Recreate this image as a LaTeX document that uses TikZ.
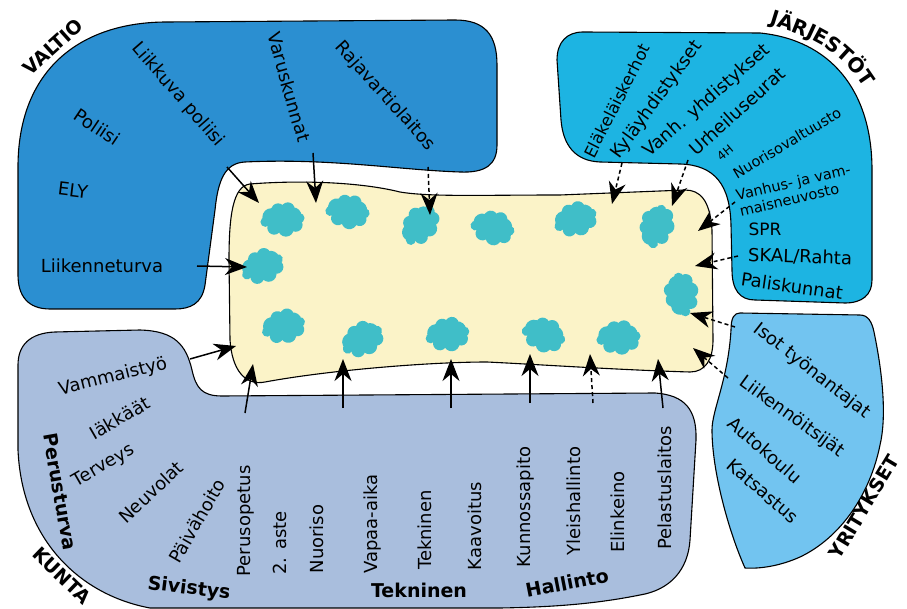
\documentclass[tikz,border=0pt]{standalone}
\usepackage{fontspec}
\setmainfont{DejaVu Sans}
\definecolor{ValtioBlue}{RGB}{43,143,209}
\definecolor{JarjCyan}  {RGB}{29,180,226}
\definecolor{YritBlue}  {RGB}{114,196,240}
\definecolor{KuntaGrey} {RGB}{169,190,221}
\definecolor{CoreCream} {RGB}{251,243,200}
\definecolor{SplatTeal} {RGB}{64,190,200}
\usetikzlibrary{arrows.meta,decorations.text}

\begin{document}
\begin{tikzpicture}[x=1pt,y=-1pt,
  region/.style={draw=black,line width=1.1pt},
  lbl/.style={font=\fontsize{18}{20}\selectfont,inner sep=1pt},
  slbl/.style={font=\fontsize{14.5}{16}\selectfont,inner sep=1pt},
  blbl/.style={font=\fontsize{19}{21}\selectfont\bfseries,inner sep=1pt},
  vlbl/.style={lbl,rotate=90},
  arr/.style={line width=1.5pt,-{Stealth[length=22pt,width=17pt,inset=7pt]}},
  darr/.style={arr,dash pattern=on 4pt off 3pt},
  pics/splat/.style={code={
    \fill[SplatTeal,scale=0.98] (0,0) circle[radius=13]
      (-11,-3) circle[radius=9] (11,-4) circle[radius=9]
      (-4,-10) circle[radius=7] (6,-11) circle[radius=7]
      (-8,8) circle[radius=7] (4,9) circle[radius=8]
      (14,5) circle[radius=7] (-17,2) circle[radius=5]
      (18,-2) circle[radius=5];}}]
  \useasboundingbox (0,0) rectangle (907,609);
  %% VALTIO
  \filldraw[region,fill=ValtioBlue]
    (18,167) .. controls (18,70) and (80,22) .. (167,22)
    -- (455,20) .. controls (485,20) and (497,35) .. (497,65)
    -- (497,145) .. controls (497,165) and (485,173) .. (460,172)
    .. controls (400,170) and (330,158) .. (245,162)
    .. controls (225,163) and (218,180) .. (215,210)
    -- (205,285) .. controls (202,304) and (190,309) .. (175,309)
    -- (50,309) .. controls (28,309) and (18,296) .. (18,275) -- cycle;
  %% JARJESTOT
  \filldraw[region,fill=JarjCyan]
    (583,32) -- (760,33) .. controls (830,40) and (872,90) .. (872,170)
    -- (872,280) .. controls (872,295) and (862,303) .. (845,303)
    -- (755,300) .. controls (740,300) and (732,290) .. (732,270)
    -- (731,225) .. controls (730,185) and (715,165) .. (680,164)
    -- (600,162) .. controls (575,161) and (563,145) .. (561,120)
    -- (557,60) .. controls (557,42) and (567,32) .. (583,32) -- cycle;
  %% YRITYKSET
  \filldraw[region,fill=YritBlue]
    (740,313) -- (860,315) .. controls (868,315) and (872,322) .. (874,332)
    .. controls (884,380) and (886,420) .. (880,445)
    .. controls (870,495) and (840,538) .. (800,557)
    .. controls (780,566) and (760,569) .. (745,568)
    .. controls (728,530) and (712,470) .. (712,430)
    .. controls (712,410) and (728,380) .. (731,330)
    .. controls (731,318) and (734,313) .. (740,313) -- cycle;
  %% KUNTA
  \filldraw[region,fill=KuntaGrey]
    (150,608) .. controls (80,595) and (22,540) .. (18,450)
    -- (18,365) .. controls (18,345) and (30,333) .. (55,332)
    -- (140,330) .. controls (175,331) and (186,345) .. (192,370)
    .. controls (196,388) and (202,396) .. (222,396)
    -- (655,393) .. controls (685,395) and (697,410) .. (696,440)
    -- (690,540) .. controls (688,570) and (670,590) .. (640,595)
    .. controls (600,603) and (560,607) .. (500,608) -- cycle;
  %% Core area
  \filldraw[region,fill=CoreCream]
    (250,184) .. controls (300,180) and (360,182) .. (400,192)
    .. controls (430,197) and (480,195) .. (560,195)
    -- (685,190) .. controls (700,190) and (710,200) .. (712,230)
    -- (713,340) .. controls (713,360) and (705,372) .. (690,372)
    .. controls (620,370) and (530,364) .. (487,362)
    .. controls (430,362) and (330,370) .. (265,382)
    .. controls (245,386) and (232,370) .. (230,340)
    -- (229,260) .. controls (229,215) and (233,186) .. (250,184) -- cycle;
  \foreach \sx/\sy/\sr in {282/220/0, 347/212/-10, 420/226/50, 492/228/-15,
      575/220/15, 657/227/70, 262/267/20, 682/295/95, 283/327/10,
      362/340/25, 447/335/5, 543/335/-20, 618/338/0}
    \pic[rotate=\sr] at (\sx,\sy) {splat};
  %% VALTIO labels
  \node[blbl,rotate=42] (valtio) at (53,47) {VALTIO};
  \node[lbl,rotate=-34] (poliisi) at (97,127) {Poliisi};
  \node[lbl,rotate=-7] (ely) at (73,190) {ELY};
  \node[lbl] (liikenneturva) at (102,266) {Liikenneturva};
  \node[lbl,rotate=-49] (liikkuva) at (178,95) {Liikkuva poliisi};
  \node[lbl,rotate=-74] (varuskunnat) at (289,87) {Varuskunnat};
  \node[lbl,rotate=-48] (rajavartio) at (385,96) {Rajavartiolaitos};
  %% JARJESTOT labels
  \path[decorate,decoration={text along path,
      text={|\fontsize{20}{22}\selectfont\bfseries|JÄRJESTÖT}}]
    (769,24) .. controls (822,40) and (845,55) .. (868,94);
  \node[lbl,font=\fontsize{16.5}{18}\selectfont,rotate=63] (elakelais) at (617,101) {Eläkeläiskerhot};
  \node[lbl,rotate=54] (kylayhd) at (657,100) {Kyläyhdistykset};
  \node[lbl,rotate=41] (vanhyhd) at (707,101) {Vanh. yhdistykset};
  \node[lbl,rotate=42] (urheilu) at (737,111) {Urheiluseurat};
  \node[slbl,font=\fontsize{12}{14}\selectfont,rotate=40] (neljaH) at (725,153) {4H};
  \node[slbl,rotate=31] (nuorvalt) at (787,143) {Nuorisovaltuusto};
  \node[slbl,rotate=13,align=left] (vanhusneuv) at (795,190) {Vanhus- ja vam-\\maisneuvosto};
  \node[lbl,font=\fontsize{17}{19}\selectfont] (spr) at (765,229) {SPR};
  \node[lbl,rotate=-2] (skal) at (800,257) {SKAL/Rahta};
  \node[lbl,rotate=-8] (palis) at (792,286) {Paliskunnat};
  %% YRITYKSET labels
  \node[lbl,rotate=-38] (isot) at (812,371) {Isot työnantajat};
  \node[lbl,rotate=-36] (liikennoitsijat) at (792,417) {Liikennöitsijät};
  \node[lbl,rotate=-41] (autokoulu) at (765,450) {Autokoulu};
  \node[lbl,rotate=-41] (katsastus) at (763,491) {Katsastus};
  \node[blbl,rotate=59] (yritykset) at (864,507) {YRITYKSET};
  %% KUNTA labels
  \node[lbl,rotate=14] (vammais) at (113,377) {Vammaistyö};
  \node[lbl,rotate=30] (iakkaat) at (120,418) {Iäkkäät};
  \node[lbl,rotate=30] (terveys) at (104,466) {Terveys};
  \node[lbl,rotate=43] (neuvolat) at (151,492) {Neuvolat};
  \node[lbl,rotate=60] (paivahoito) at (197,521) {Päivähoito};
  \node[vlbl] (perusopetus) at (246,521) {Perusopetus};
  \node[vlbl] (toinenaste) at (280,543) {2. aste};
  \node[vlbl] (nuoriso) at (317,539) {Nuoriso};
  \node[vlbl] (vapaa) at (373,524) {Vapaa-aika};
  \node[vlbl] (tekn) at (425,530) {Tekninen};
  \node[vlbl] (kaavoitus) at (475,526) {Kaavoitus};
  \node[vlbl] (kunnossapito) at (526,507) {Kunnossapito};
  \node[vlbl] (yleishall) at (574,501) {Yleishallinto};
  \node[vlbl] (elinkeino) at (618,512) {Elinkeino};
  \node[vlbl] (pelastus) at (665,488) {Pelastuslaitos};
  \node[blbl,rotate=-80] (perusturva) at (60,492) {Perusturva};
  \node[blbl,rotate=-44] (kunta) at (62,576) {KUNTA};
  \node[blbl,rotate=-7] (sivistys) at (189,589) {Sivistys};
  \node[blbl] (tekninen) at (419,590) {Tekninen};
  \node[blbl,rotate=11] (hallinto) at (567,583) {Hallinto};
  %% Arrow ends
  \coordinate (lp-a) at (227,167);  \coordinate (lp-b) at (259,203);
  \coordinate (va-a) at (313,153);  \coordinate (va-b) at (316,203);
  \coordinate (ra-a) at (428,167);  \coordinate (ra-b) at (430,215);
  \coordinate (lt-a) at (197,266);  \coordinate (lt-b) at (247,267);
  \coordinate (ky-a) at (622,163);  \coordinate (ky-b) at (612,204);
  \coordinate (ur-a) at (688,160);  \coordinate (ur-b) at (672,206);
  \coordinate (vn-a) at (735,202);  \coordinate (vn-b) at (698,231);
  \coordinate (sk-a) at (738,256);  \coordinate (sk-b) at (695,266);
  \coordinate (is-a) at (735,327);  \coordinate (is-b) at (690,313);
  \coordinate (lk-a) at (728,378);  \coordinate (lk-b) at (693,348);
  \coordinate (vm-a) at (190,359);  \coordinate (vm-b) at (236,346);
  \coordinate (k1-a) at (245,413);  \coordinate (k1-b) at (253,364);
  \coordinate (k2-a) at (343,408);  \coordinate (k2-b) at (343,359);
  \coordinate (k3-a) at (451,408);  \coordinate (k3-b) at (451,359);
  \coordinate (k4-a) at (530,403);  \coordinate (k4-b) at (530,354);
  \coordinate (k5-a) at (593,403);  \coordinate (k5-b) at (590,354);
  \coordinate (k6-a) at (663,408);  \coordinate (k6-b) at (658,359);
  %% Arrows
  \draw[arr] (lp-a) -- (lp-b);
  \draw[arr] (va-a) -- (va-b);
  \draw[darr] (ra-a) -- (ra-b);
  \draw[arr] (lt-a) -- (lt-b);
  \draw[darr] (ky-a) -- (ky-b);
  \draw[darr] (ur-a) -- (ur-b);
  \draw[darr] (vn-a) -- (vn-b);
  \draw[darr] (sk-a) -- (sk-b);
  \draw[darr] (is-a) -- (is-b);
  \draw[darr] (lk-a) -- (lk-b);
  \draw[arr] (vm-a) -- (vm-b);
  \draw[arr] (k1-a) -- (k1-b);
  \draw[arr] (k2-a) -- (k2-b);
  \draw[arr] (k3-a) -- (k3-b);
  \draw[arr] (k4-a) -- (k4-b);
  \draw[darr] (k5-a) -- (k5-b);
  \draw[arr] (k6-a) -- (k6-b);
\end{tikzpicture}
\end{document}
